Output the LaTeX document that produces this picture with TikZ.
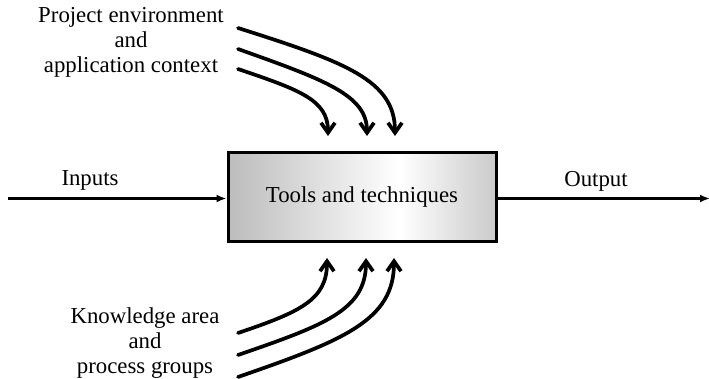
\documentclass[tikz,border=0pt]{standalone}
\usepackage{fontspec}
\setmainfont{Liberation Serif}
\usetikzlibrary{arrows.meta}
\definecolor{shadeL}{RGB}{188,188,188}
\definecolor{shadeR}{RGB}{202,202,202}
% horizontal grey-white-grey fill for the process box (path spans 25bp..75bp)
\pgfdeclarehorizontalshading{boxshade}{100bp}{color(0bp)=(shadeL); color(25bp)=(shadeL); color(57bp)=(white); color(75bp)=(shadeR); color(100bp)=(shadeR)}
\begin{document}
\begin{tikzpicture}[x=1pt,y=-1pt,
  lbl/.style={font=\fontsize{22.8}{25}\selectfont, align=center, inner sep=0pt},
  flow/.style={line width=3pt, -{Latex[length=10pt,width=8pt]}},
  feed/.style={line width=3.7pt, line cap=round, -{Straight Barb[length=10pt,width=14pt,line width=3.7pt]}},
  procbox/.style={draw, line width=3pt, shading=boxshade, minimum width=268pt, minimum height=89pt, inner sep=0pt, font=\fontsize{22.8}{25}\selectfont}]
\useasboundingbox (0,0) rectangle (709,379);

% central process
\node[procbox] (box) at (362,197.5) {Tools and techniques};

% labels
\node[lbl] (env) at (131,42) {Project environment\\and\\application context};
\node[lbl] (know) at (145,343) {Knowledge area\\and\\process groups};
\node[lbl] (inp) at (90,180) {Inputs};
\node[lbl] (outp) at (596,181) {Output};

% end points of the side flows
\coordinate (inStart) at (8,198.5);
\coordinate (outEnd) at (710,198.5);
\draw[flow] (inStart) -- (box.west |- inStart);
\draw[flow] (box.east |- outEnd) -- (outEnd);

% feed arrows from above
\coordinate (t1s) at (238,28);  \coordinate (t1e) at (395,136);
\coordinate (t2s) at (238,49);  \coordinate (t2e) at (367,136);
\coordinate (t3s) at (238,69);  \coordinate (t3e) at (328,136);
\draw[feed] (t1s) .. controls (345,62) and (395,80) .. (t1e);
\draw[feed] (t2s) .. controls (325,80) and (367,95) .. (t2e);
\draw[feed] (t3s) .. controls (300,90) and (328,100) .. (t3e);

% feed arrows from below
\coordinate (b1s) at (238,377); \coordinate (b1e) at (394,258);
\coordinate (b2s) at (238,355); \coordinate (b2e) at (366,258);
\coordinate (b3s) at (238,333); \coordinate (b3e) at (327,258);
\draw[feed] (b1s) .. controls (345,340) and (394,320) .. (b1e);
\draw[feed] (b2s) .. controls (325,325) and (366,310) .. (b2e);
\draw[feed] (b3s) .. controls (300,312) and (327,300) .. (b3e);
\end{tikzpicture}
\end{document}
